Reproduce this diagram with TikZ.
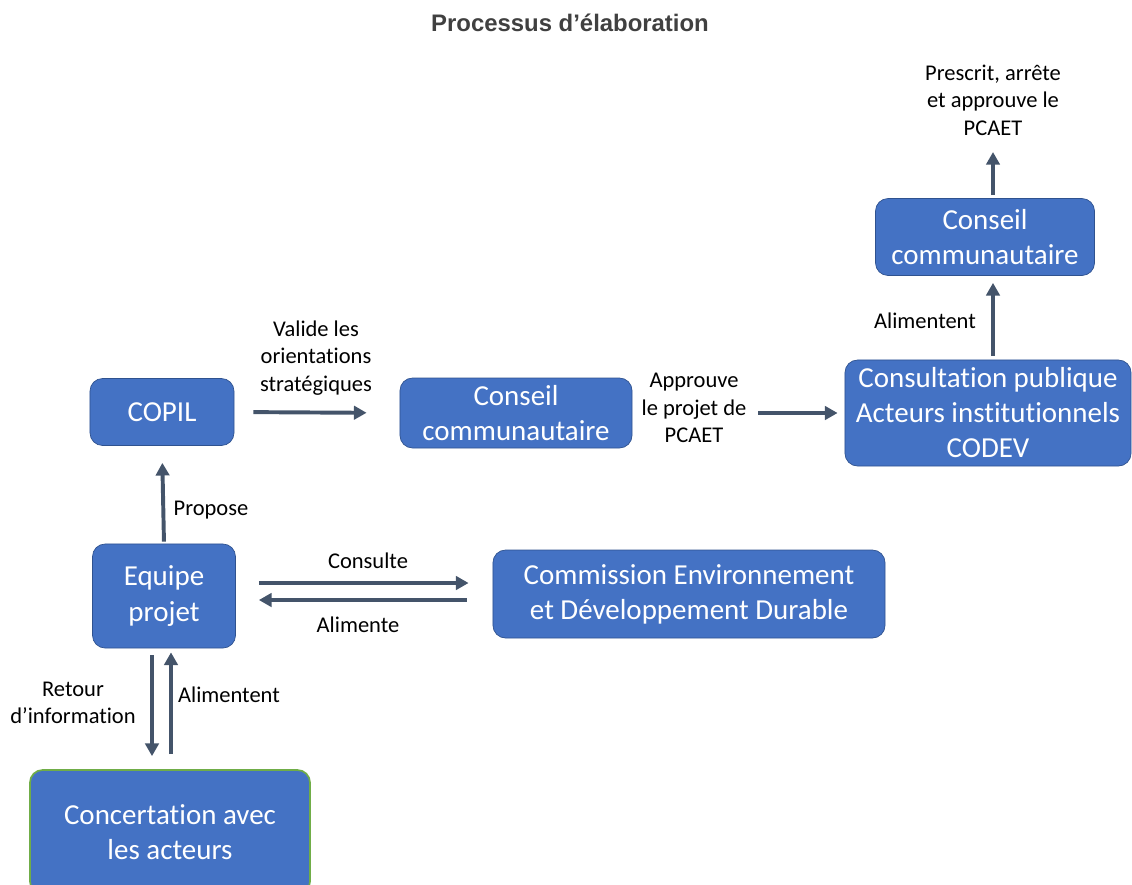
\documentclass[tikz,border=0pt]{standalone}
\usepackage{fontspec}
\setmainfont[Ligatures=NoCommon]{Carlito}
\newfontfamily\titlefont{Liberation Sans}
\usepackage{xcolor}
\usetikzlibrary{arrows.meta}
\definecolor{boxblue}{HTML}{4472C4}
\definecolor{boxedge}{HTML}{2F528F}
\definecolor{arrowgray}{HTML}{44546A}
\definecolor{leafgreen}{HTML}{70AD47}
\definecolor{titlegray}{HTML}{404040}
\tikzset{
box/.style = {rectangle, rounded corners=9pt, draw=boxedge, line width=0.5pt, fill=boxblue, text=white, align=center, font=\fontsize{20.6}{24.9}\selectfont, minimum width = #1},
box/.default = 3.6cm, % width of the box
lab/.style = {align=center, font=\fontsize{16}{19.6}\selectfont, inner sep=1pt},
link/.style = {-{Triangle[length=9pt,width=9.5pt]}, draw=arrowgray, line width=2.8pt},
}

\begin{document}
\begin{tikzpicture}[x=0.025cm, y=-0.025cm]
    \useasboundingbox (0,0) rectangle (1132,884);
    \node[font=\titlefont\bfseries\fontsize{17}{20}\selectfont, text=titlegray] (title) at (570,23) {Processus d’élaboration};

    \node[box, minimum height=1.675cm] (copil) at (162,412) {COPIL};
    \node[box=5.8cm, minimum height=1.75cm] (conseilA) at (516,413) {Conseil\\communautaire};
    \node[box=7.15cm, minimum height=2.65cm] (consult) at (988,413) {Consultation publique\\Acteurs institutionnels\\CODEV};
    \node[box=5.475cm, minimum height=1.925cm] (conseilB) at (985,237) {Conseil\\communautaire};
    \node[box=3.575cm, minimum height=2.6cm] (equipe) at (164,596) {Equipe\\projet};
    \node[box=9.8cm, minimum height=2.2cm] (commission) at (689,594) {Commission Environnement\\et Développement Durable};
    \node[box=7cm, minimum height=3.1cm, draw=leafgreen, line width=1.2pt] (concert) at (170,832) {Concertation avec\\les acteurs};
    \coordinate (topend) at (993,152);

    \draw[link, shorten <=0.475cm, shorten >=0.825cm] (copil.east) -- (conseilA.west);
    \node[lab] (valide) at (316,358) {Valide les\\orientations\\stratégiques};
    \draw[link, shorten <=3.15cm, shorten >=0.175cm] (conseilA.east) -- (consult.west);
    \node[lab] (approuve) at (694,408) {Approuve\\le projet de\\PCAET};
    \draw[link, shorten <=0.1cm, shorten >=0.175cm] (consult.north -| topend) -- (conseilB.south -| topend);
    \node[lab] (alimB) at (925,321) {Alimentent};
    \draw[link, shorten <=0.075cm] (conseilB.north -| topend) -- (topend);
    \node[lab] (prescrit) at (993,100) {Prescrit, arrête\\et approuve le\\PCAET};

    \draw[link, shorten <=0.05cm, shorten >=0.425cm] (equipe.north) -- (copil.south);
    \node[lab] (propose) at (211,510) {Propose};
    \draw[link, shorten <=0.575cm, shorten >=0.6cm] ([yshift=0.325cm]equipe.east) -- ([yshift=0.325cm]equipe.east -| commission.west);
    \node[lab] (consulte) at (368,561) {Consulte};
    \draw[link, shorten <=0.65cm, shorten >=0.575cm] ([yshift=-0.1cm]equipe.east -| commission.west) -- ([yshift=-0.1cm]equipe.east);
    \node[lab] (alimente) at (358,625) {Alimente};

    \draw[link, shorten <=0.175cm, shorten >=0.325cm] ([xshift=-0.3cm]equipe.south) -- ([xshift=-0.3cm]equipe.south |- concert.north);
    \node[lab] (retour) at (73,703) {Retour\\d’information};
    \draw[link, shorten <=0.375cm, shorten >=0.1cm] ([xshift=0.175cm]equipe.south |- concert.north) -- ([xshift=0.175cm]equipe.south);
    \node[lab] (alimA) at (229,695) {Alimentent};
\end{tikzpicture}
\end{document}
